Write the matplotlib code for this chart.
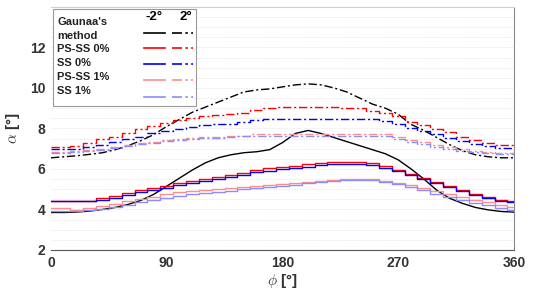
import numpy as np
import matplotlib
matplotlib.use("Agg")
import matplotlib.pyplot as plt
from matplotlib.lines import Line2D
from matplotlib.patches import Rectangle

plt.rcParams["font.family"] = ["Liberation Sans", "DejaVu Sans"]
plt.rcParams["mathtext.fontset"] = "cm"

# ── data ──────────────────────────────────────────────────────────────────────
phi = np.arange(0, 361, 10)

gaunaa_m2 = [3.85, 3.85, 3.87, 3.92, 4.0, 4.1, 4.25, 4.45, 4.75, 5.15,
             5.55, 5.95, 6.3, 6.55, 6.7, 6.8, 6.85, 6.95, 7.3, 7.75,
             7.9, 7.75, 7.55, 7.35, 7.15, 6.95, 6.75, 6.45, 6.0, 5.5,
             4.95, 4.55, 4.3, 4.1, 3.98, 3.9, 3.87]
gaunaa_p2 = [6.55, 6.6, 6.65, 6.72, 6.8, 6.95, 7.15, 7.4, 7.7, 8.1,
             8.45, 8.8, 9.05, 9.3, 9.55, 9.8, 9.9, 9.95, 10.05, 10.15,
             10.2, 10.15, 10.0, 9.8, 9.5, 9.2, 9.0, 8.7, 8.2, 7.9,
             7.55, 7.2, 6.9, 6.7, 6.6, 6.55, 6.55]

psss0_m2 = [4.4, 4.4, 4.4, 4.4, 4.55, 4.65, 4.8, 4.95, 5.05, 5.15,
            5.3, 5.4, 5.5, 5.6, 5.7, 5.8, 5.95, 6.05, 6.1, 6.15,
            6.25, 6.3, 6.35, 6.35, 6.35, 6.3, 6.15, 5.95, 5.75, 5.55,
            5.35, 5.15, 4.95, 4.75, 4.6, 4.45, 4.4]
ss0_m2 = [4.4, 4.4, 4.4, 4.4, 4.48, 4.57, 4.7, 4.85, 4.95, 5.07,
          5.2, 5.3, 5.4, 5.5, 5.6, 5.7, 5.83, 5.92, 5.98, 6.05,
          6.12, 6.18, 6.22, 6.23, 6.23, 6.2, 6.07, 5.9, 5.7, 5.5,
          5.3, 5.1, 4.9, 4.7, 4.56, 4.42, 4.38]
psss1_m2 = [4.05, 4.05, 3.95, 4.05, 4.15, 4.25, 4.4, 4.5, 4.6, 4.75,
            4.85, 4.9, 4.95, 5.0, 5.05, 5.1, 5.15, 5.2, 5.25, 5.3,
            5.35, 5.4, 5.45, 5.5, 5.5, 5.5, 5.4, 5.3, 5.2, 5.05,
            4.9, 4.75, 4.6, 4.45, 4.35, 4.2, 4.1]
ss1_m2 = [3.9, 3.9, 3.9, 3.95, 4.0, 4.1, 4.2, 4.35, 4.45, 4.55,
          4.65, 4.75, 4.8, 4.85, 4.9, 5.0, 5.05, 5.1, 5.15, 5.2,
          5.3, 5.35, 5.4, 5.45, 5.45, 5.45, 5.35, 5.25, 5.1, 4.95,
          4.75, 4.6, 4.45, 4.3, 4.2, 4.05, 3.95]

psss0_p2 = [7.1, 7.1, 7.15, 7.3, 7.5, 7.6, 7.75, 7.95, 8.1, 8.25,
            8.4, 8.5, 8.6, 8.65, 8.7, 8.75, 8.9, 9.0, 9.05, 9.05,
            9.05, 9.05, 9.05, 9.0, 9.0, 8.85, 8.75, 8.6, 8.3, 8.15,
            7.95, 7.8, 7.6, 7.45, 7.3, 7.2, 7.2]
ss0_p2 = [7.0, 7.0, 7.0, 7.1, 7.2, 7.35, 7.5, 7.6, 7.75, 7.85,
          7.95, 8.05, 8.15, 8.2, 8.2, 8.3, 8.4, 8.45, 8.45, 8.45,
          8.45, 8.45, 8.45, 8.45, 8.45, 8.45, 8.35, 8.2, 8.0, 7.85,
          7.7, 7.55, 7.4, 7.25, 7.15, 7.05, 7.05]
psss1_p2 = [6.85, 6.85, 6.9, 6.95, 7.0, 7.1, 7.2, 7.3, 7.35, 7.45,
            7.5, 7.55, 7.6, 7.6, 7.65, 7.65, 7.7, 7.7, 7.7, 7.7,
            7.7, 7.7, 7.7, 7.7, 7.7, 7.7, 7.7, 7.6, 7.45, 7.35,
            7.2, 7.1, 7.0, 6.9, 6.85, 6.8, 6.8]
ss1_p2 = [6.8, 6.8, 6.85, 6.9, 6.95, 7.05, 7.15, 7.25, 7.3, 7.4,
          7.45, 7.5, 7.55, 7.55, 7.6, 7.62, 7.65, 7.65, 7.65, 7.65,
          7.65, 7.65, 7.65, 7.65, 7.65, 7.65, 7.62, 7.5, 7.35, 7.25,
          7.1, 7.0, 6.9, 6.82, 6.78, 6.75, 6.75]

labels = ["Gaunaa's", "method", "PS-SS 0%", "SS 0%", "PS-SS 1%", "SS 1%"]
colors = ["black", "#ff0000", "#0000ff", "#ff8c8c", "#8c8cff"]
xticks = [0, 90, 180, 270, 360]
yticks = [2, 4, 6, 8, 10, 12]

# ── figure ────────────────────────────────────────────────────────────────────
fig = plt.figure(figsize=(5.37, 2.99), dpi=100)
ax = fig.add_axes([0.095, 0.164, 0.862, 0.813])

DASHDOT = (0, (6, 2, 1.5, 2))
lw = 1.0

ax.plot(phi, gaunaa_m2, color=colors[0], lw=lw)
ax.plot(phi, gaunaa_p2, color=colors[0], lw=lw, ls=DASHDOT)

stepped = [(psss0_m2, psss0_p2, colors[1]), (ss0_m2, ss0_p2, colors[2]),
           (psss1_m2, psss1_p2, colors[3]), (ss1_m2, ss1_p2, colors[4])]
for m2, p2, c in stepped:
    ax.plot(phi, m2, color=c, lw=lw, drawstyle="steps-mid")
    ax.plot(phi, p2, color=c, lw=lw, ls=DASHDOT, drawstyle="steps-mid")

ax.set_xlim(0, 360)
ax.set_ylim(2, 14)
ax.set_xticks(xticks)
ax.set_yticks(yticks)
ax.set_yticks(np.arange(2.5, 14, 0.5), minor=True)
ax.tick_params(axis="both", length=0, labelsize=10, colors="#333333", pad=4)
ax.tick_params(axis="y", which="minor", length=0)
for t in ax.get_xticklabels() + ax.get_yticklabels():
    t.set_fontweight("bold")
ax.grid(True, axis="y", which="both", color="#e4e4e4", lw=0.6, ls=(0, (1.5, 1.5)))
ax.set_axisbelow(True)

ax.spines["left"].set_visible(False)
ax.spines["bottom"].set_color("#555555")
ax.spines["top"].set_color("#d0d0d0")
ax.spines["right"].set_color("#888888")

ax.set_xlabel(r"$\phi$ [°]", fontsize=11, fontweight="bold", color="#333333", labelpad=2)
ax.set_ylabel(r"$\alpha$ [°]", fontsize=11, fontweight="bold", color="#333333", labelpad=6)

# ── custom legend (two line columns: -2° / 2°) ───────────────────────────────
T = ax.transAxes
ax.add_patch(Rectangle((0.004, 0.594), 0.309, 0.398, transform=T,
                       facecolor="white", edgecolor="#999999", lw=0.8, zorder=5))
ax.text(0.222, 0.958, "-2°", transform=T, fontsize=9.5, fontweight="bold",
        ha="center", va="center", zorder=6)
ax.text(0.291, 0.958, "2°", transform=T, fontsize=9.5, fontweight="bold",
        ha="center", va="center", zorder=6)
text_y = [0.937, 0.881, 0.826, 0.768, 0.711, 0.654]
for lab, y in zip(labels, text_y):
    ax.text(0.014, y, lab, transform=T, fontsize=8, fontweight="bold",
            ha="left", va="center", zorder=6, color="#222222")
line_y = [0.893, 0.832, 0.766, 0.701, 0.631]
for y, c in zip(line_y, colors):
    ax.add_line(Line2D([0.201, 0.246], [y, y], transform=T, color=c,
                       lw=1.2, zorder=6))
    ax.add_line(Line2D([0.261, 0.307], [y, y], transform=T, color=c,
                       lw=1.2, ls=DASHDOT, zorder=6))

fig.savefig("out.png", dpi=100)
